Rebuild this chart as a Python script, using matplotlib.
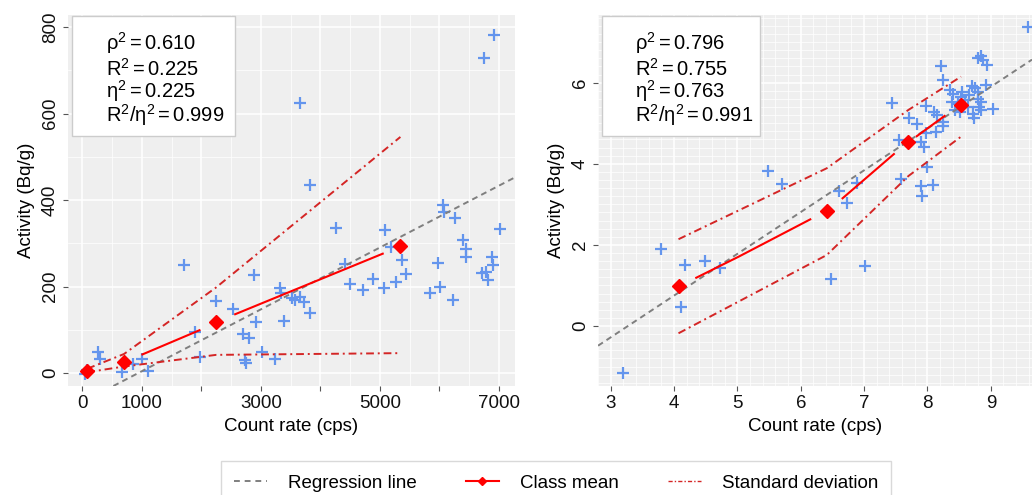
import numpy as np
import matplotlib
matplotlib.use("Agg")
import matplotlib.pyplot as plt
from matplotlib.lines import Line2D
from matplotlib.patches import Rectangle

plt.rcParams["font.family"] = ["Liberation Sans", "DejaVu Sans"]
plt.rcParams["mathtext.fontset"] = "custom"
plt.rcParams["mathtext.rm"] = "Liberation Sans"
plt.rcParams["mathtext.it"] = "Liberation Sans:italic"
plt.rcParams["mathtext.default"] = "regular"

# ── 데이터: 왼쪽 (선형 스케일) ─────────────────────────────
left_x = [6926, 6747, 3651, 3819, 1711, 4268, 5093, 6063, 6074, 6254,
          7011, 6394, 6439, 6439, 5979, 6887, 6904, 6708, 6775, 6815,
          5850, 6007, 6226, 5373, 5446, 5278, 5064, 5188, 4420, 4504,
          4717, 4885, 3326, 3337, 3522, 3578, 3651, 3730, 3819, 3382,
          2877, 2922, 2524, 2249, 2692, 2804, 3017, 3242, 2726, 2748,
          1896, 1980, 258, 297, 673, 858, 1010, 1110, 45, 84]
left_y = [781, 728, 625, 434, 250, 335, 330, 388, 372, 359,
          334, 308, 287, 268, 254, 268, 250, 231, 233, 214,
          185, 200, 170, 262, 228, 210, 197, 291, 253, 205,
          193, 218, 197, 185, 173, 168, 176, 164, 139, 120,
          226, 118, 147, 166, 91, 81, 49, 32, 29, 23,
          96, 37, 49, 33, 2, 22, 32, 4, -2, 8]
left_mean_x = [84, 701, 2249, 5345]
left_mean_y = [5, 25, 118, 293]
left_sd_hi = [10, 44, 198, 546]
left_sd_lo = [2, 15, 42, 46]
left_segs = [([1010, 1969], [43, 99]), ([2569, 5048], [136, 276])]
left_reg = (-67.3, 0.0715)          # 절편, 기울기
left_stats = ["0.610", "0.225", "0.225", "0.999"]

# ── 데이터: 오른쪽 (로그 변환) ─────────────────────────────
right_x = [9.58, 3.19, 3.79, 4.11, 4.18, 4.49, 4.73, 5.49, 5.70, 6.47,
           7.01, 6.61, 6.73, 6.88, 7.44, 7.55, 7.59, 7.71, 7.83, 7.89,
           7.94, 7.89, 7.91, 8.00, 8.08, 7.97, 7.98, 8.13, 8.10, 8.15,
           8.21, 8.25, 8.24, 8.25, 8.36, 8.39, 8.43, 8.41, 8.51, 8.55,
           8.59, 8.64, 8.72, 8.74, 8.70, 8.75, 8.79, 8.80, 8.82, 8.85,
           8.84, 8.80, 8.85, 8.87, 8.94, 8.92, 9.03, 8.48, 8.53, 8.65]
right_y = [7.38, -1.17, 1.91, 0.48, 1.50, 1.61, 1.42, 3.83, 3.50, 1.16,
           1.48, 3.34, 3.04, 3.53, 5.51, 4.58, 3.62, 5.12, 4.98, 4.54,
           4.42, 3.45, 3.20, 3.93, 3.47, 5.42, 4.77, 4.79, 5.28, 5.20,
           6.41, 6.06, 5.04, 4.93, 5.82, 5.53, 5.32, 5.71, 5.28, 5.78,
           5.57, 5.41, 5.24, 5.14, 5.92, 5.88, 5.78, 5.59, 5.41, 5.53,
           5.32, 6.60, 6.66, 6.56, 6.43, 5.94, 5.34, 5.47, 5.65, 5.69]
right_mean_x = [4.07, 6.41, 7.70, 8.53]
right_mean_y = [0.99, 2.84, 4.54, 5.45]
right_sd_hi = [2.14, 3.89, 5.33, 6.15]
right_sd_lo = [-0.18, 1.75, 3.70, 4.67]
right_segs = [([4.35, 5.02, 6.15], [1.19, 1.71, 2.63]),
              ([6.66, 7.47], [3.15, 4.24]),
              ([7.83, 8.27], [4.68, 5.18])]
right_reg = (-3.37, 1.03)
right_stats = ["0.796", "0.755", "0.763", "0.991"]

BLUE, RED, SDRED, GRAY = "#6495ED", "#FF0000", "#D42525", "#7F7F7F"
PANEL = "#EFEFEF"
FS = 13.5


def draw_panel(ax, px, py, mx, my, hi, lo, segs, reg, stats):
    ax.set_facecolor(PANEL)
    for s in ax.spines.values():
        s.set_visible(False)
    ax.grid(which="major", color="white", lw=1.1)
    ax.grid(which="minor", color="white", lw=0.5)
    ax.set_axisbelow(True)
    ax.tick_params(which="major", length=3.5, width=0.8, color="#555555",
                   labelsize=FS, labelcolor="#111111", pad=3)
    ax.tick_params(which="minor", length=0)
    ax.tick_params(axis="y", labelrotation=90)
    for t in ax.get_yticklabels():
        t.set_va("center")

    ax.scatter(px, py, marker="+", s=85, lw=1.6, color=BLUE, zorder=3)
    ax.axline((0, reg[0]), slope=reg[1], color=GRAY, lw=1.4,
              dashes=(3, 2.2), zorder=4)
    for sx, sy in segs:
        ax.plot(sx, sy, color=RED, lw=1.5, zorder=5)
    ax.plot(mx, hi, color=SDRED, lw=1.4, dashes=(4, 2, 1, 2), zorder=5)
    ax.plot(mx, lo, color=SDRED, lw=1.4, dashes=(4, 2, 1, 2), zorder=5)
    ax.plot(mx, my, ls="none", marker="D", ms=7, color=RED, zorder=6)

    ax.set_xlabel("Count rate (cps)", fontsize=FS, labelpad=4)
    ax.set_ylabel("Activity (Bq/g)", fontsize=FS, labelpad=5)

    ax.add_patch(Rectangle((0.008, 0.674), 0.365, 0.323, transform=ax.transAxes,
                           facecolor="white", edgecolor="#CCCCCC", lw=1,
                           zorder=7, clip_on=False))
    names = [r"$\rho^2 = %s$", r"$R^2 = %s$", r"$\eta^2 = %s$",
             r"$R^2 / \eta^2 = %s$"]
    for k, (nm, v) in enumerate(zip(names, stats)):
        ax.text(0.085, [0.906, 0.836, 0.776, 0.712][k], nm % v,
                transform=ax.transAxes, fontsize=14.5, va="baseline",
                ha="left", zorder=8)


fig = plt.figure(figsize=(10.32, 4.95), dpi=100)
axl = fig.add_axes([0.0659, 0.2202, 0.4331, 0.7495])
axr = fig.add_axes([0.5795, 0.2202, 0.4205, 0.7495])

axl.set_xlim(-240, 7270)
axl.set_ylim(-30, 828)
axl.set_xticks(range(0, 7001, 1000),
               ["0", "1000", "", "3000", "", "5000", "", "7000"])
axl.set_xticks(range(500, 7001, 1000), minor=True)
axl.set_yticks(range(0, 801, 200))
axl.set_yticks(range(100, 801, 200), minor=True)

axr.set_xlim(2.95, 9.65)
axr.set_ylim(-1.48, 7.67)
axr.set_xticks(range(3, 10))
axr.set_xticks(np.arange(2.8, 9.8, 0.2), minor=True)
axr.set_yticks([0, 2, 4, 6])
axr.set_yticks(np.arange(-1.4, 7.8, 0.2), minor=True)

draw_panel(axl, left_x, left_y, left_mean_x, left_mean_y, left_sd_hi,
           left_sd_lo, left_segs, left_reg, left_stats)
draw_panel(axr, right_x, right_y, right_mean_x, right_mean_y, right_sd_hi,
           right_sd_lo, right_segs, right_reg, right_stats)

handles = [Line2D([], [], color=GRAY, lw=1.4, dashes=(3, 2.5)),
           Line2D([], [], color=RED, lw=1.5, marker="D", ms=4),
           Line2D([], [], color=SDRED, lw=1.0, dashes=(3, 1.5, 1, 1.5))]
labels = ["Regression line", "Class mean", "Standard deviation"]
fig.legend(handles, labels, loc="upper center",
           bbox_to_anchor=(556 / 1032, 1 - 452 / 495), ncol=3,
           fontsize=FS, frameon=True, fancybox=False, edgecolor="#D0D0D0",
           handlelength=1.8, handletextpad=1.1, columnspacing=2.6,
           borderpad=0.7)

fig.savefig("out.png", dpi=100)
